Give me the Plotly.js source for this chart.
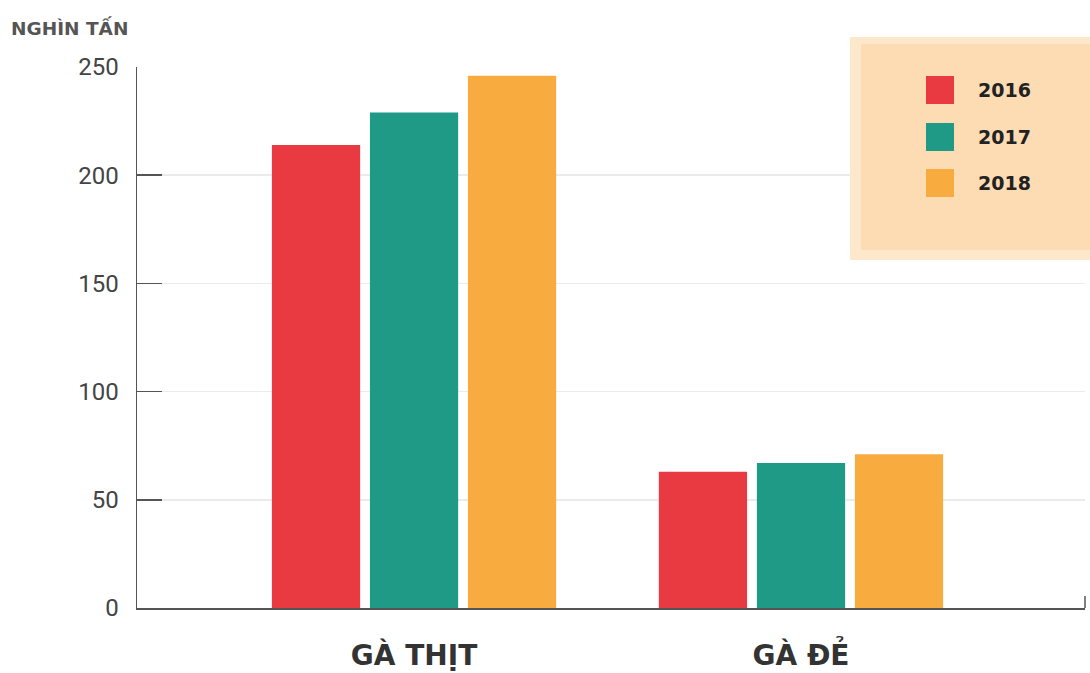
<!DOCTYPE html>
<html>
<head>
<meta charset="utf-8">
<script src="https://cdn.plot.ly/plotly-3.0.1.min.js"></script>
<style>html,body{margin:0;padding:0;background:#fff;}#chart{width:1090px;height:673px;}</style>
</head>
<body>
<div id="chart"></div>
<script>
const categories = ["GÀ THỊT", "GÀ ĐẺ"];
const seriesNames = ["2016", "2017", "2018"];
const values2016 = [214, 63];
const values2017 = [229, 67];
const values2018 = [246, 71];
const yTicks = [0, 50, 100, 150, 200, 250];
const yTitle = "NGHÌN TẤN";

const colors = ["#ea3a41", "#1f9a87", "#f8ac40"];
const allValues = [values2016, values2017, values2018];

const traces = seriesNames.map((name, i) => ({
  type: "bar",
  name: name,
  x: categories,
  y: allValues[i],
  marker: {color: colors[i]},
  hoverinfo: "y+name"
}));

// layout geometry in pixels
const L = 137, R = 1085, T = 67, B = 608;
const px = v => (v - L) / (R - L);
const py = v => (B - v) / (B - T);

const shapes = [
  // legend box
  {type: "rect", xref: "paper", yref: "paper", x0: px(850), x1: px(1092), y0: py(260), y1: py(37), fillcolor: "#fee8cc", line: {width: 0}, layer: "above"},
  {type: "rect", xref: "paper", yref: "paper", x0: px(861), x1: px(1092), y0: py(250), y1: py(44), fillcolor: "#fddcb3", line: {width: 0}, layer: "above"},
  // right end tick of x axis
  {type: "line", xref: "paper", yref: "paper", x0: px(1085), x1: px(1085), y0: 0, y1: py(596), line: {color: "#555", width: 1.5}, layer: "above"}
];
const annotations = [
  {xref: "paper", yref: "paper", x: px(9), y: py(28), xanchor: "left", yanchor: "middle", text: "<b>" + yTitle + "</b>", showarrow: false, font: {family: "'DejaVu Sans', sans-serif", size: 18.5, color: "#555"}}
];
const legendY = [90, 137, 183];
seriesNames.forEach((name, i) => {
  shapes.push({type: "rect", xref: "paper", yref: "paper", x0: px(926), x1: px(954), y0: py(legendY[i] + 14), y1: py(legendY[i] - 14), fillcolor: colors[i], line: {width: 0}, layer: "above"});
  annotations.push({xref: "paper", yref: "paper", x: px(976), y: py(legendY[i]), xanchor: "left", yanchor: "middle", text: "<b>" + name + "</b>", showarrow: false, font: {family: "'DejaVu Sans', sans-serif", size: 19, color: "#222"}});
});

const layout = {
  width: 1090, height: 673,
  margin: {l: L, r: 1090 - R, t: T, b: 673 - B, pad: 0},
  paper_bgcolor: "#fff", plot_bgcolor: "#fff",
  showlegend: false,
  barmode: "group",
  bargap: 0.24,
  bargroupgap: 0.1,
  font: {family: "Roboto, sans-serif", color: "#444"},
  xaxis: {
    type: "category",
    range: [-0.716, 1.734],
    showgrid: false,
    showline: true, linecolor: "#555", linewidth: 1.5,
    ticks: "",
    tickfont: {family: "'DejaVu Sans', sans-serif", size: 28, color: "#333", weight: "bold"},
    ticklabelstandoff: 22,
    fixedrange: true
  },
  yaxis: {
    range: [0, 250],
    tickvals: yTicks,
    ticktext: yTicks.map(String),
    showgrid: true, gridcolor: "#ebebeb", gridwidth: 1.5,
    showline: true, linecolor: "#555", linewidth: 1.5,
    zeroline: false,
    ticks: "inside", ticklen: 25, tickcolor: "#555", tickwidth: 1.5,
    tickfont: {family: "Roboto, sans-serif", size: 24, color: "#444"},
    ticklabelstandoff: 12,
    fixedrange: true
  },
  shapes: shapes,
  annotations: annotations
};

Plotly.newPlot("chart", traces, layout, {displayModeBar: false, staticPlot: true});
</script>
</body>
</html>
